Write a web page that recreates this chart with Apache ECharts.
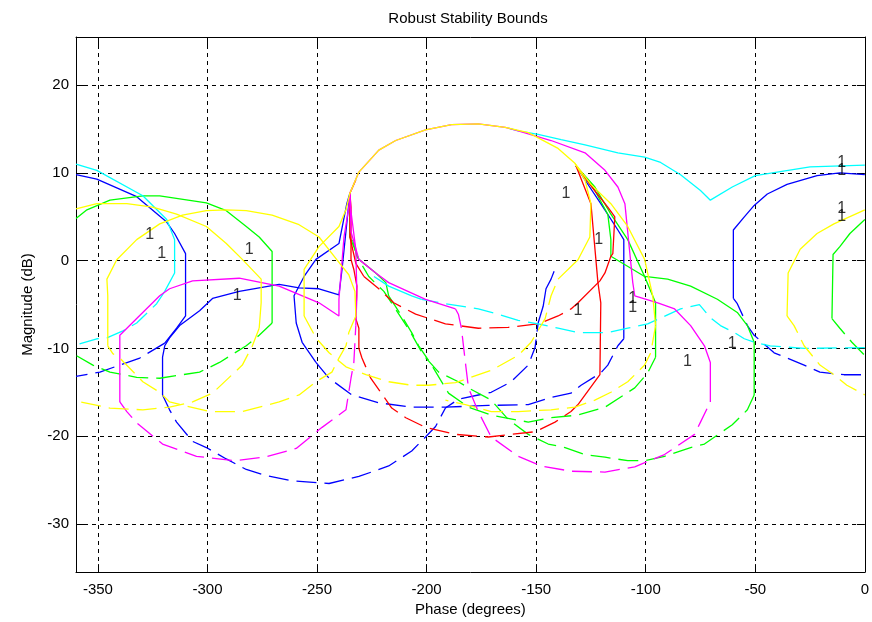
<!DOCTYPE html>
<html>
<head>
<meta charset="utf-8">
<title>Robust Stability Bounds</title>
<script src="https://cdn.jsdelivr.net/npm/echarts@6/dist/echarts.min.js"></script>
<style>
  html, body { margin: 0; padding: 0; background: #fff; }
  #chart { width: 872px; height: 622px; }
</style>
</head>
<body>
<div id="chart"></div>
<script>
// Axis ticks
const phaseTicks = [-350, -300, -250, -200, -150, -100, -50, 0];
const magTicks = [-30, -20, -10, 0, 10, 20];

// Bound curves, [phase (deg), magnitude (dB)]
// Blue
const blueWrapLeftSolid = [[-360,9.8],[-350.5,9.3],[-332.3,7.3],[-318.6,4.4],[-315,3.1],[-310,0.8],[-310,-6.3],[-314.1,-7.7],[-319.5,-9.4]];
const blueWrapLeftDashed = [[-319.5,-9.4],[-330.9,-11.1],[-349.1,-12.7],[-360,-13.2]];
const blueWrapRightSolid = [[0,9.8],[-11.4,10.0],[-21.8,9.7],[-35.5,8.7],[-44.5,7.6],[-50.5,6.3],[-55,5.0],[-60,3.5],[-60,-4.3]];
const blueWrapRightDashed = [[-60,-4.3],[-58.2,-4.9],[-53.6,-7.4],[-50.5,-8.5],[-41.4,-10.5],[-27.7,-11.9],[-20.5,-12.7],[-9.5,-13],[0,-13]];
const blueMidSolidA = [[-235,7.7],[-236.4,6.5],[-240,1.95],[-250.5,0.15],[-255.9,-1.8],[-260.5,-4.0],[-259.5,-7.1],[-256.8,-9.3],[-250.5,-11.6]];
const blueMidDashed = [[-250.5,-11.6],[-244.5,-13.4],[-234.1,-15.3],[-221.8,-16.2],[-206.8,-16.7],[-191.4,-16.7],[-171.8,-16.5],[-153.6,-16.4],[-143.2,-15.6],[-134.1,-15.1],[-129.5,-14.2],[-120.5,-12.8],[-117.3,-11.9],[-112.7,-9.7],[-110,-8.9]];
const blueMidSolidB = [[-110,-8.9],[-110,2.4],[-112.7,3.5],[-120.5,6.5],[-127.7,9.2],[-131.8,10.8]];
const blueArcSolid = [[-235,7.7],[-238.6,-1.0],[-240,-3.9],[-249.1,-3.2],[-258.2,-3.1],[-267.3,-2.7],[-285.5,-3.5],[-297.7,-4.3],[-303.6,-5.7],[-312.7,-7.4],[-317.3,-8.8],[-319.5,-9.7],[-320.5,-11],[-320.5,-15.3]];
const blueArcDashed = [[-320.5,-15.3],[-317.3,-17],[-314.1,-18.4],[-306.8,-20.6],[-300.5,-21.3],[-291.4,-22.6],[-282.3,-23.8],[-273.2,-24.5],[-261.4,-25.1],[-244.5,-25.4],[-230.9,-24.6],[-217.3,-23.4],[-206.8,-21.7],[-200.5,-20.1],[-195.9,-18.9],[-191.4,-16.8],[-185.5,-15.8],[-170.5,-15],[-161.4,-13.8],[-153.6,-11.9],[-150.5,-9.9],[-149.1,-7.1]];
const blueArcSolidEnd = [[-149.1,-7.1],[-146.8,-5.2],[-145.5,-3.2],[-143.2,-2.1],[-141.8,-1.2]];

// Green
const greenWrapLeftSolid = [[-360,4.8],[-355,5.8],[-344.5,6.9],[-329.5,7.4],[-321.8,7.4],[-300.5,6.6],[-291.4,5.7],[-282.3,3.9],[-276.4,2.7],[-270.5,1.05],[-270.5,-7.1]];
const greenWrapLeftDashed = [[-270.5,-7.1],[-276.4,-8.5],[-282.3,-9.7],[-294.5,-11.6],[-303.6,-12.7],[-321.8,-13.4],[-332.3,-13.3],[-344.5,-12.7],[-352.3,-11.9],[-360,-10.8]];
const greenWrapRightSolid = [[0,4.7],[-6.8,3.1],[-11.4,1.6],[-14.5,0.7],[-15,-6.6]];
const greenWrapRightDashed = [[-15,-6.6],[-11.4,-7.7],[-5.9,-9.3],[0,-10.8]];
const greenMidSolidA = [[-235,7.7],[-235,2.7],[-230.9,0.15],[-223.2,-1.4],[-218.6,-2.5],[-217.3,-4.0]];
const greenMidDashed = [[-217.3,-4.0],[-211.4,-6.3],[-206.8,-8.2],[-203.6,-9.7],[-197.7,-11.9],[-190,-15.1],[-180.9,-16.7],[-170.5,-17.6],[-153.6,-18.4],[-143.2,-17.9],[-130.9,-17.6],[-118.6,-16.7],[-105,-14.5],[-99.1,-12.8],[-95.5,-11]];
const greenMidSolidB = [[-95.5,-11],[-95.5,-4.8],[-100.5,-1.8],[-108.2,2.4],[-115.9,5.3],[-123.2,8.4],[-131.8,10.8]];
const greenRightSolid = [[-131.8,10.8],[-123.2,8.0],[-117.3,5.3],[-115.9,2.4],[-115.9,0.5],[-100.5,-1.8],[-90,-2.1],[-79.5,-2.9],[-67.3,-4.4],[-58.2,-5.9],[-53.6,-7.4],[-50.5,-9.3],[-50.5,-15.3]];
const greenRightDashed = [[-50.5,-15.3],[-53.6,-17],[-60.5,-18.7],[-73.2,-20.9],[-79.5,-21.3],[-91.4,-22.3],[-100.5,-22.8],[-108.2,-22.8],[-118.6,-22.4],[-127.7,-22.1],[-136.8,-21.3],[-144.5,-20.9],[-153.6,-19.8],[-162.7,-18.1],[-170.5,-15.9],[-180.9,-14.5],[-185.5,-13.8],[-194.5,-12.7],[-201.4,-10.8],[-207.7,-8.0],[-215,-5.2],[-219.5,-3.5],[-226.4,-1.8],[-231.8,0.5],[-234.1,2.7]];

// Red
const redSpikeSolid = [[-232.3,9.2],[-235,7.7],[-234.5,6.1],[-234.5,0.15],[-233.2,-1.0],[-231.8,-2.9],[-232.3,-6.6],[-230.9,-7.7],[-230.9,-10]];
const redLowDashed = [[-230.9,-10],[-229.5,-11.1],[-225.5,-13.4],[-215.9,-16.8],[-209.5,-17.9],[-200.5,-19],[-186.8,-19.8],[-171.8,-20.1],[-161.4,-19.8],[-150.5,-19.5],[-141.4,-18.4],[-134.1,-17.2],[-130.9,-16.4]];
const redLowSolid = [[-130.9,-16.4],[-120.9,-13],[-120.5,-4.8],[-121.8,-2.5],[-125,6.5],[-131.8,10.8]];
const redUpSolidA = [[-235,7.7],[-235,2.7],[-232.3,-0.3],[-228.6,-1.8]];
const redUpDashed = [[-228.6,-1.8],[-221.8,-3.2],[-215,-4.8],[-205,-6.1],[-191.4,-7.2],[-176.4,-7.7],[-162.7,-7.6],[-149.1,-7.2],[-140,-6.3],[-134.1,-5.5],[-130.9,-4.8]];
const redUpSolidB = [[-130.9,-4.8],[-120.9,-2.3],[-118.6,-1.4],[-115.9,0.5],[-115,0.8],[-114.1,5.0],[-117.3,6.1],[-122.7,7.8],[-131.8,10.8]];

// Cyan
const cyanTopSolid = [[-162.7,15.1],[-158.2,14.8],[-149.1,14.4],[-138.6,13.8],[-127.7,13.2],[-112.7,12.3],[-100.5,11.8],[-93.2,11.2],[-84.1,9.8],[-75,8.0],[-70.5,6.9],[-60.5,8.4],[-50,9.7],[-25,10.7],[0,10.9]];
const cyanLeftSolid = [[-360,11.0],[-350.5,10.3],[-329.5,7.4],[-318.6,4.7],[-315,2.4],[-315,-1.4],[-319.5,-3.5]];
const cyanLeftDashed = [[-319.5,-3.5],[-323.2,-4.9],[-332.3,-7.1],[-338.6,-8.0],[-345.9,-8.8],[-350.5,-8.9],[-360,-9.6]];
const cyanLowDashed = [[0,-9.9],[-27.7,-10],[-43.2,-9.7],[-50.5,-9.3],[-55,-8.9],[-59.5,-8.2],[-65.9,-7.4],[-70.5,-6.5],[-75.5,-5.0],[-84.1,-5.5],[-99.1,-7.2],[-108.2,-7.7],[-117.3,-8.2],[-130.9,-8.2],[-140,-7.7],[-149.1,-7.2],[-158.2,-6.8],[-167.3,-6.1],[-176.4,-5.5],[-191.4,-4.9],[-202.3,-4.4]];
const cyanLowSolid = [[-202.3,-4.4],[-206.8,-4.0],[-217.3,-2.9],[-224,-1.8]];

// Magenta
const magentaLeftSolidA = [[-235,7.7],[-235.5,6.1],[-237.7,2.7],[-240,-4.4],[-240,-6.3],[-249.1,-4.8],[-267.3,-2.9],[-285.5,-2.0],[-306.8,-2.3],[-317.3,-3.2],[-321.8,-4.0],[-332.3,-6.6],[-340,-8.5],[-340,-16.1]];
const magentaLeftDashed = [[-340,-16.1],[-336.8,-17.2],[-332.3,-18.5],[-320.5,-20.9],[-305,-22.3],[-287.7,-22.8],[-274.1,-22.4],[-259.5,-21.4],[-247.7,-19],[-236.8,-17],[-234.5,-13.4],[-233.2,-11.6],[-232.3,-7.4]];
const magentaLeftSolidB = [[-232.3,-7.4],[-231.8,-4.0],[-232.3,1.3],[-234.5,5.6],[-235,7.7]];
const magentaMidSolidA = [[-235,7.7],[-234.5,3.3],[-230.9,0.15],[-223.2,-1.4],[-217.3,-2.5],[-200.5,-4.4],[-186.8,-5.5]];
const magentaMidDashed = [[-186.8,-5.5],[-185.5,-6.1],[-184.1,-7.7],[-182.3,-11.6],[-180.9,-14.5],[-176.4,-17.2],[-170.5,-20.1],[-158.2,-22.3],[-147.7,-23.4],[-134.1,-24],[-118.6,-24.1],[-105,-23.5],[-91.4,-22.1],[-77.7,-19.8],[-75,-18.4],[-70.5,-16.1]];
const magentaMidSolidB = [[-70.5,-16.1],[-70.5,-11.6],[-73.2,-9.7],[-79.5,-7.4],[-86.8,-5.5],[-94.5,-4.8],[-105,-4.0],[-105.9,-2.5],[-109.5,6.5],[-112.7,8.4],[-118.6,10.3],[-127.7,12.3],[-143.2,13.7],[-158.2,14.8],[-164.1,15.2],[-176.4,15.6],[-188.6,15.5],[-200.5,14.9],[-214.1,13.7],[-221.8,12.6],[-230.9,10.1],[-235,7.7]];

// Yellow
const yellowTopSolid = [[-235,7.7],[-230.9,10.1],[-221.8,12.6],[-214.1,13.7],[-200.5,14.9],[-188.6,15.5],[-176.4,15.6],[-164.1,15.2],[-153.6,14.6],[-140,12.8],[-132.3,11.1],[-125,8.7],[-115.9,6.5],[-108.2,3.9],[-100.5,0.15],[-96.8,-4.0],[-95.5,-7.4]];
const yellowTopDashed = [[-95.5,-7.4],[-97.7,-10.5],[-100.5,-11.9],[-108.2,-13.8],[-115.9,-15],[-123.2,-15.9],[-132.3,-16.7],[-143.2,-17],[-158.2,-17.2],[-170.5,-17.2],[-182.3,-16.4],[-191.4,-15.9]];
const yellowMidSolidA = [[-235,7.7],[-236.8,5.8],[-240,3.9],[-249.1,1.6],[-255.9,-1.0],[-255.9,-6.3]];
const yellowMidDashed = [[-255.9,-6.3],[-250.5,-8.8],[-244.5,-10.5],[-236.8,-12.1],[-227.7,-13.0],[-217.3,-13.8],[-206.8,-14.2],[-199.1,-14.2],[-186.8,-13.9],[-180.9,-13.4],[-170.5,-12.5],[-158.2,-10.8],[-152.3,-9.3],[-145.9,-6.6],[-143.2,-4.0],[-140,-2.1]];
const yellowMidSolidB = [[-140,-2.1],[-130.9,0.1],[-125.5,2.7],[-125,6.5],[-127.7,9.2],[-132.3,11.1]];
const yellowLeftSolid = [[-345.5,-9.7],[-345.5,-4.0],[-345.9,-2.1],[-341.4,0.1],[-332.3,2.4],[-321.8,4.2],[-311.4,5.2],[-300.5,5.7],[-291.4,5.8],[-282.3,5.7],[-270.5,5.2],[-258.2,4.1],[-249.1,2.7],[-240.9,0.1],[-235.5,-1.6],[-232.7,-3.5],[-232.3,-6.3]];
const yellowLeftDashed = [[-232.3,-6.3],[-235.5,-8.2],[-236.8,-9.7],[-240,-11.1],[-243.2,-12.7],[-250.5,-13.8],[-258.2,-15.3],[-267.3,-16.1],[-284.1,-17.2],[-299.1,-17.2],[-317.3,-16.1],[-321.8,-15],[-329.5,-13.8],[-340,-11.1],[-343.2,-10.6],[-345.5,-9.7]];
const yellowWrapLeftSolid = [[-360,5.9],[-350.5,6.5],[-336.8,6.5],[-325,6.1],[-314.1,5.3],[-300.5,3.9],[-291.4,1.95],[-284.1,0.15],[-275.5,-2.1],[-275.5,-4.8],[-276.4,-7.7]];
const yellowWrapLeftDashed = [[-276.4,-7.7],[-279.5,-9.7],[-284.1,-11.9],[-297.7,-15.1],[-306.8,-16.1],[-317.3,-16.7],[-329.5,-17],[-344.5,-16.8],[-358.2,-16.1],[-360,-15.5]];
const yellowWrapRightSolid = [[0,5.8],[-14.1,4.2],[-21.8,3.1],[-29.5,1.3],[-35,-1.4],[-35.5,-6.3]];
const yellowWrapRightDashed = [[-35.5,-6.3],[-32.3,-7.4],[-27.7,-9.7],[-20.5,-11.9],[-14.1,-13],[-8.2,-14.2],[0,-15.3]];

// Frequency tags "1" placed next to the bounds
const freqTagPositions = [[-326.4,3.0],[-320.9,0.8],[-280.9,1.3],[-286.4,-4.0],[-136.4,7.7],[-121.4,2.4],[-130.9,-5.7],[-105.9,-4.3],[-105.9,-5.4],[-80.9,-11.5],[-60.5,-9.4],[-10.5,11.2],[-10.5,10.3],[-10.5,5.9],[-10.5,5.0]];
const freqTagText = '1';

// Plot colours (MATLAB colour order)
const COLORS = { b: '#0000ff', g: '#00ff00', r: '#ff0000', c: '#00ffff', m: '#ff00ff', y: '#ffff00' };
const DASH = [20, 8];

const segments = [
  [blueWrapLeftSolid, 'b', false], [blueWrapLeftDashed, 'b', true],
  [blueWrapRightSolid, 'b', false], [blueWrapRightDashed, 'b', true],
  [blueMidSolidA, 'b', false], [blueMidDashed, 'b', true], [blueMidSolidB, 'b', false],
  [blueArcSolid, 'b', false], [blueArcDashed, 'b', true], [blueArcSolidEnd, 'b', false],

  [greenWrapLeftSolid, 'g', false], [greenWrapLeftDashed, 'g', true],
  [greenWrapRightSolid, 'g', false], [greenWrapRightDashed, 'g', true],
  [greenMidSolidA, 'g', false], [greenMidDashed, 'g', true], [greenMidSolidB, 'g', false],
  [greenRightSolid, 'g', false], [greenRightDashed, 'g', true],

  [redSpikeSolid, 'r', false], [redLowDashed, 'r', true], [redLowSolid, 'r', false],
  [redUpSolidA, 'r', false], [redUpDashed, 'r', true], [redUpSolidB, 'r', false],

  [cyanTopSolid, 'c', false], [cyanLeftSolid, 'c', false], [cyanLeftDashed, 'c', true],
  [cyanLowDashed, 'c', true], [cyanLowSolid, 'c', false],

  [magentaLeftSolidA, 'm', false], [magentaLeftDashed, 'm', true], [magentaLeftSolidB, 'm', false],
  [magentaMidSolidA, 'm', false], [magentaMidDashed, 'm', true], [magentaMidSolidB, 'm', false],

  [yellowWrapLeftSolid, 'y', false], [yellowWrapLeftDashed, 'y', true],
  [yellowWrapRightSolid, 'y', false], [yellowWrapRightDashed, 'y', true],
  [yellowLeftSolid, 'y', false], [yellowLeftDashed, 'y', true],
  [yellowMidSolidA, 'y', false], [yellowMidDashed, 'y', true], [yellowMidSolidB, 'y', false],
  [yellowTopSolid, 'y', false], [yellowTopDashed, 'y', true]
];

const FONT = 'Arial, "Liberation Sans", Helvetica, sans-serif';

const lineSeries = segments.map(([pts, c, dashed]) => ({
  type: 'line',
  data: pts,
  symbol: 'none',
  showSymbol: false,
  silent: true,
  clip: true,
  lineStyle: { color: COLORS[c], width: 1.3, type: dashed ? DASH : 'solid' }
}));

const tagSeries = {
  type: 'scatter',
  data: freqTagPositions,
  symbolSize: 1,
  silent: true,
  itemStyle: { color: 'rgba(0,0,0,0)' },
  label: {
    show: true,
    position: 'inside',
    formatter: freqTagText,
    color: '#000',
    fontSize: 16,
    fontFamily: FONT
  },
  z: 5
};

const gridLine = { show: true, lineStyle: { color: '#000', width: 1, type: [4, 4] } };
const frameLine = { show: true, onZero: false, lineStyle: { color: '#000', width: 1 } };

const chart = echarts.init(document.getElementById('chart'), null, { renderer: 'canvas' });
chart.setOption({
  backgroundColor: '#ffffff',
  animation: false,
  title: {
    text: 'Robust Stability Bounds',
    left: 468,
    textAlign: 'center',
    top: 11,
    padding: 0,
    textStyle: { fontSize: 15, fontWeight: 'normal', color: '#000', fontFamily: FONT }
  },
  grid: { left: 76, right: 4, top: 37, bottom: 44 },
  xAxis: [
    {
      type: 'value', min: -360, max: 0, position: 'bottom',
      name: 'Phase (degrees)', nameLocation: 'middle', nameGap: 28,
      nameTextStyle: { fontSize: 15, color: '#000', fontFamily: FONT },
      axisLine: frameLine,
      axisTick: { show: true, inside: true, length: 8, customValues: phaseTicks, lineStyle: { color: '#000' } },
      axisLabel: { customValues: phaseTicks, margin: 10, fontSize: 15, color: '#000', fontFamily: FONT },
      splitLine: gridLine
    },
    {
      type: 'value', min: -360, max: 0, position: 'top',
      axisLine: frameLine,
      axisTick: { show: true, inside: true, length: 8, customValues: phaseTicks, lineStyle: { color: '#000' } },
      axisLabel: { show: false },
      splitLine: { show: false }
    }
  ],
  yAxis: [
    {
      type: 'value', min: -35.5, max: 25.5, position: 'left',
      name: 'Magnitude (dB)', nameLocation: 'middle', nameGap: 41, nameRotate: 90,
      nameTextStyle: { fontSize: 15, color: '#000', fontFamily: FONT },
      axisLine: frameLine,
      axisTick: { show: true, inside: true, length: 8, customValues: magTicks, lineStyle: { color: '#000' } },
      axisLabel: { customValues: magTicks, margin: 7, fontSize: 15, color: '#000', fontFamily: FONT },
      splitLine: gridLine
    },
    {
      type: 'value', min: -35.5, max: 25.5, position: 'right',
      axisLine: frameLine,
      axisTick: { show: true, inside: true, length: 8, customValues: magTicks, lineStyle: { color: '#000' } },
      axisLabel: { show: false },
      splitLine: { show: false }
    }
  ],
  series: lineSeries.concat([tagSeries])
});
</script>
</body>
</html>
